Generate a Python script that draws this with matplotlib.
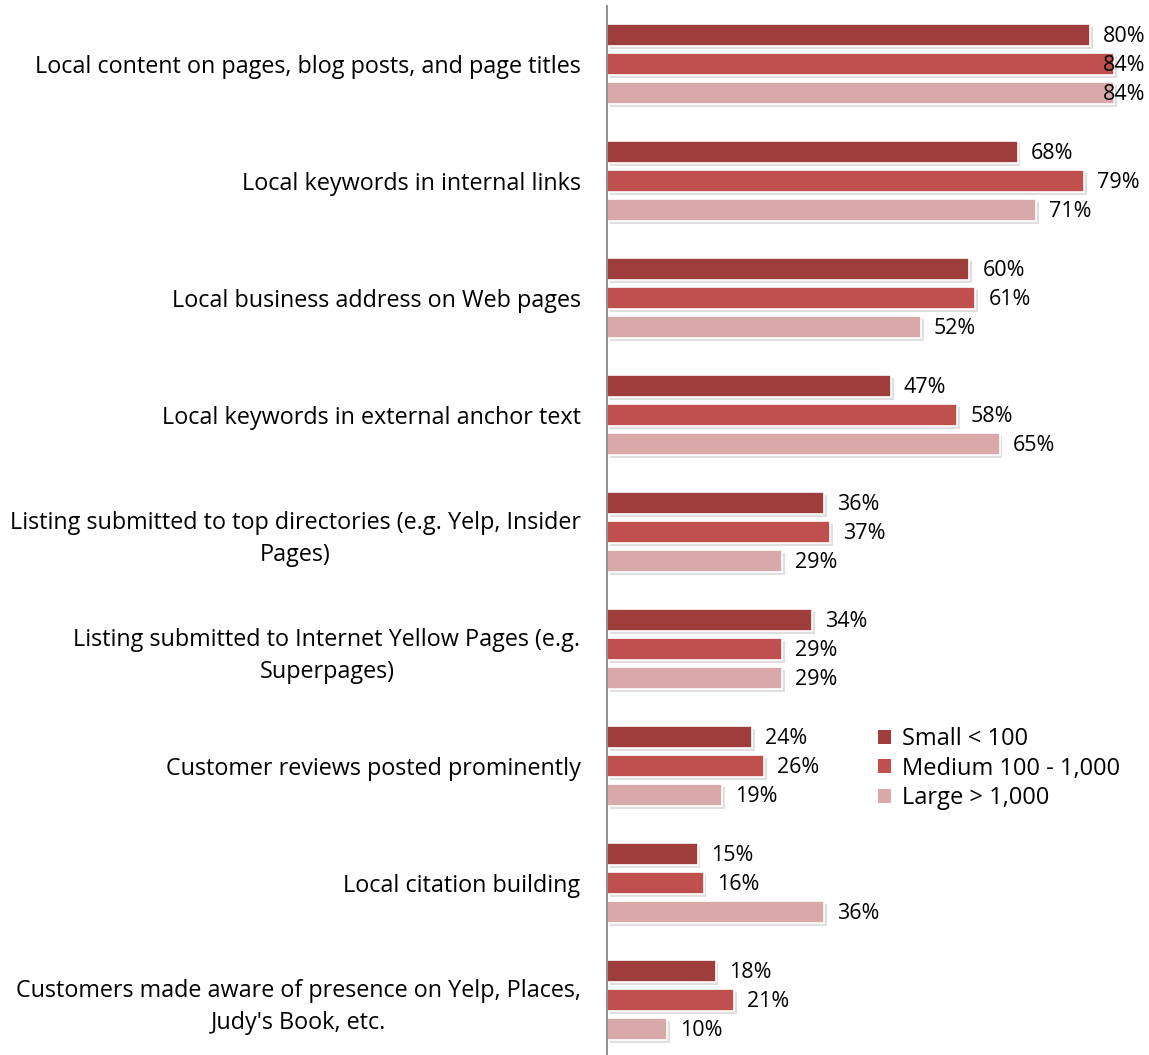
import matplotlib
matplotlib.use("Agg")
import matplotlib.pyplot as plt
import matplotlib.patheffects as pe
import numpy as np

plt.rcParams['font.family'] = ['Open Sans', 'DejaVu Sans']

categories = [
    "Local content on pages, blog posts, and page titles",
    "Local keywords in internal links",
    "Local business address on Web pages",
    "Local keywords in external anchor text",
    "Listing submitted to top directories (e.g. Yelp, Insider\nPages)",
    "Listing submitted to Internet Yellow Pages (e.g.\nSuperpages)",
    "Customer reviews posted prominently",
    "Local citation building",
    "Customers made aware of presence on Yelp, Places,\nJudy's Book, etc.",
]
series_names = ["Small < 100", "Medium 100 - 1,000", "Large > 1,000"]
small = [80, 68, 60, 47, 36, 34, 24, 15, 18]
medium = [84, 79, 61, 58, 37, 29, 26, 16, 21]
large = [84, 71, 52, 65, 29, 29, 19, 36, 10]
colors = ["#9E3D3C", "#C0504D", "#D9A8A8"]

W, H = 1149, 1055
fig = plt.figure(figsize=(W / 100, H / 100), dpi=100)
ax_left = 607 / W
px_per_pct = 6.04
xmax = 90
ax_w = xmax * px_per_pct / W
ax_top_px = 6
ax = fig.add_axes([ax_left, 0, ax_w, 1 - ax_top_px / H])

spacing = 117.0
n = len(categories)
ax_h_px = H - ax_top_px
units = ax_h_px / spacing
top = -(64 - ax_top_px) / spacing
ax.set_ylim(top + units, top)
ax.set_xlim(0, xmax)

y = np.arange(n)
bar_h = 22 / spacing
off = 29 / spacing
gap = 13 / px_per_pct
label_max_x = 80 + gap  # labels are kept inside the plot area
shadow = [pe.SimplePatchShadow(offset=(2, -2), alpha=0.25, shadow_rgbFace='#808080'), pe.Normal()]
for i, (vals, c, name) in enumerate(zip([small, medium, large], colors, series_names)):
    pos = y + (i - 1) * off
    bars = ax.barh(pos, vals, height=bar_h, color=c, edgecolor='white', linewidth=1.2, label=name)
    for b in bars:
        b.set_path_effects(shadow)
    for p, v in zip(pos, vals):
        ax.text(min(v + gap, label_max_x), p + 0.01, f"{v}%", va='center', ha='left',
                fontsize=15.5, color='#000000', zorder=5)

ax.set_yticks(y)
ax.set_yticklabels(categories, fontsize=16.8, multialignment='center', linespacing=1.45)
ax.tick_params(axis='y', length=0, pad=19)
ax.tick_params(axis='x', bottom=False, labelbottom=False)
for s in ['top', 'right', 'bottom']:
    ax.spines[s].set_visible(False)
ax.spines['left'].set_color('#868686')
ax.spines['left'].set_linewidth(1.3)

leg = fig.legend(loc='upper left', bbox_to_anchor=(878 / W, 1 - 727 / H), frameon=False,
                 fontsize=17, handlelength=0.55, handleheight=0.55, handletextpad=0.45,
                 labelspacing=0.24, borderaxespad=0, borderpad=0)
for h in leg.legend_handles:
    h.set_path_effects([])
    h.set_linewidth(0)

fig.savefig("out.png", dpi=100)
